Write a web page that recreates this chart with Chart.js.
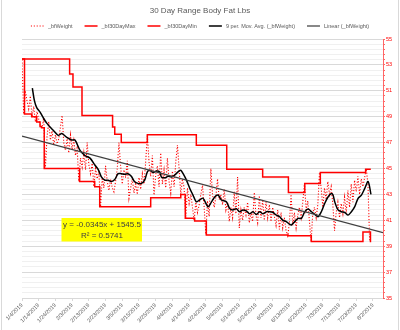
<!DOCTYPE html>
<html>
<head>
<meta charset="utf-8">
<title>30 Day Range Body Fat Lbs</title>
<script src="https://cdn.jsdelivr.net/npm/chart.js@4.4.1/dist/chart.umd.min.js"></script>
<style>
  html, body { margin: 0; padding: 0; background: #fff; }
  #wrap { width: 400px; height: 330px; position: relative; }
</style>
</head>
<body>
<div id="wrap"><canvas id="bfChart"></canvas></div>
<script>
// x values are days counted from 1/4/2019
const dateTicks = [
  '1/4/2019', '1/14/2019', '1/24/2019', '2/3/2019', '2/13/2019', '2/23/2019',
  '3/5/2019', '3/15/2019', '3/25/2019', '4/4/2019', '4/14/2019', '4/24/2019',
  '5/4/2019', '5/14/2019', '5/24/2019', '6/3/2019', '6/13/2019', '6/23/2019',
  '7/3/2019', '7/13/2019', '7/23/2019', '8/2/2019'
];

// daily body fat (lbs), one value per day
const bfWeight = [
  53.4, 49.2, 51.0, 50.2, 49.6, 50.6, 49.0, 49.8, 48.6, 49.4,
  48.8, 48.25, 48.15, 48.9, 45.0, 47.5, 48.6, 47.2, 47.9, 46.8,
  47.6, 46.9, 47.3, 48.2, 49.1, 47.0, 46.4, 47.3, 46.2, 47.6,
  46.5, 47.2, 46.0, 46.6, 44.0, 45.8, 45.1, 46.2, 44.9, 47.0,
  45.3, 44.6, 45.4, 43.6, 45.0, 44.2, 44.8, 42.05, 44.3, 43.5,
  45.2, 44.0, 43.3, 44.2, 43.5, 43.2, 44.0, 45.0, 47.0, 45.2,
  43.8, 44.9, 44.3, 45.6, 42.7, 43.5, 44.2, 43.1, 43.8, 43.0,
  44.3, 43.4, 44.6, 43.8, 45.5, 47.6, 45.5, 44.4, 46.0, 42.95,
  44.5, 45.2, 43.6, 46.2, 43.8, 44.9, 43.5, 45.8, 44.0, 43.1,
  44.8, 43.6, 45.5, 46.8, 45.0, 43.0, 44.2, 43.5, 41.16, 43.5,
  42.3, 43.0, 42.0, 41.0, 42.4, 41.6, 42.2, 43.0, 43.7, 42.0,
  39.9, 42.5, 41.3, 45.0, 43.0, 42.0, 42.8, 44.2, 42.6, 43.0,
  42.2, 43.4, 41.8, 42.4, 40.9, 42.0, 41.2, 43.2, 41.5, 44.35,
  40.4, 41.8, 41.0, 42.0, 41.4, 42.4, 40.8, 41.6, 40.9, 43.15,
  41.4, 40.8, 42.9, 41.2, 42.6, 41.0, 42.4, 41.2, 42.2, 40.9,
  42.0, 41.3, 40.6, 41.8, 40.3, 41.6, 40.4, 41.2, 40.2, 39.8,
  40.8, 43.0, 40.6, 41.6, 40.4, 41.4, 42.0, 41.2, 42.4, 43.85,
  41.8, 42.5, 40.9, 39.36, 41.6, 42.0, 41.2, 42.2, 44.7, 43.5,
  42.0, 43.5, 42.6, 44.0, 43.0, 43.6, 42.2, 40.2, 41.6, 42.4,
  41.2, 42.3, 41.5, 42.8, 41.6, 43.3, 42.0, 43.8, 42.4, 44.1,
  43.2, 44.4, 43.0, 44.2, 43.6, 44.3, 44.95, 43.8, 39.36
];

// 30 day max: each value holds from its day until the next change
const maxDays = [0, 28.5, 30.5, 35.9, 54.2, 55.5, 59.4, 75, 104.3, 122.5, 144, 159.4, 169.2, 178.5, 205.6, 208.7];
const maxValues = [53.45, 52.3, 51.3, 49.1, 48.2, 47.65, 47.0, 47.6, 46.8, 44.95, 44.35, 43.15, 43.85, 44.7, 44.95, 44.95];

// 30 day min, same layout
const minDays = [0, 1.5, 5.8, 8.8, 10.8, 11.7, 13.3, 34.5, 43.5, 46.5, 77, 95, 97.7, 103.3, 110.3, 159.2, 173.1, 204, 208.5];
const minValues = [53.45, 49.2, 49.0, 48.6, 48.25, 48.15, 45.0, 44.0, 43.6, 42.05, 42.75, 43.0, 41.16, 40.95, 39.87, 39.8, 39.36, 40.1, 39.3];

// 9 period moving average
const avgDays = [
  6.2, 7.5, 8.8, 10.8, 12.8, 14.8, 16.8, 18.7, 21.7, 23.8, 26.8, 29.7, 31.7, 34.7,
  37.7, 40.7, 43.7, 45.7, 47.5, 49.5, 51.5, 53.5, 55.5, 57.5, 59.4, 61.4, 63.4,
  65.4, 67.4, 69.4, 71.4, 73.4, 75, 76.4, 78.4, 80.4, 82.4, 83.4, 85.4, 87.4,
  89.4, 91.4, 93.4, 95, 96.4, 98.4, 100.4, 102.3, 104.3, 106.3, 108.3, 111.3,
  113.3, 115.3, 117.3, 119.3, 122.3, 124.3, 126.2, 128.2, 130.2, 132.2, 134.2,
  136.2, 138.2, 140.2, 142.2, 144.2, 146.2, 148.2, 150.2, 152.2, 154.1, 156.1,
  158.1, 160.1, 161.2, 163.2, 165.2, 167.2, 169.2, 171.2, 173.2, 175.2, 177.2,
  179.1, 181.1, 183.1, 185.1, 186.1, 187.1, 189.1, 191.1, 193.1, 195.1, 197.1,
  199.1, 201.1, 203.1, 205.1, 207.1, 208.8
];
const avgValues = [
  51.2, 50.2, 49.7, 49.35, 48.9, 48.5, 48.2, 47.95, 47.56, 47.7, 47.4, 47.2, 47.2, 46.4,
  46.0, 45.8, 45.25, 44.9, 44.35, 44.1, 44.1, 44.0, 44.15, 44.6, 44.6, 44.55, 44.6,
  44.4, 43.97, 43.85, 43.85, 44.1, 44.74, 44.87, 44.7, 44.8, 44.74, 44.35, 44.28, 44.4,
  44.35, 44.5, 44.74, 44.87, 44.6, 44.1, 43.46, 42.95, 42.43, 42.57, 42.7, 42.05,
  42.4, 42.8, 42.95, 42.57, 42.43, 41.9, 41.8, 41.9, 41.66, 41.8, 41.72,
  41.5, 41.66, 41.45, 41.66, 41.5, 41.66, 41.66, 41.6, 41.4, 41.28, 41.0,
  40.9, 40.7, 40.64, 40.9, 41.15, 41.15, 41.66, 41.87, 41.66, 41.46, 41.28,
  41.66, 42.3, 42.8, 43.07, 42.95, 42.43, 41.8, 41.66, 41.6, 41.4, 41.66,
  42.05, 42.7, 42.95, 43.46, 44.0, 43.0
];

// linear trend across the whole axis
const trendDays = [0, 216];
const trendValues = [47.5, 40.05];

const FONT = '"Liberation Sans", Arial, sans-serif';
const TEXT_GRAY = '#595959';

function xy(days, values) {
  return days.map((d, i) => ({ x: d, y: values[i] }));
}

// odd whole numbers get a label and a darker grid line
function isMajor(v) {
  const r = Math.round(v);
  return Math.abs(v - r) < 1e-6 && Math.abs(r % 2) === 1;
}

// legend row under the title, plus the trend equation box and side frame
const chartExtras = {
  id: 'chartExtras',
  afterDraw(chart) {
    const { ctx, chartArea } = chart;
    ctx.save();

    // legend
    ctx.font = '5.5px ' + FONT;
    ctx.textBaseline = 'middle';
    const sample = 13;
    const items = chart.data.datasets.map(ds => ({
      ds,
      w: sample + 4 + ctx.measureText(ds.label).width
    }));
    const gap = 12;
    const total = items.reduce((s, it) => s + it.w, 0) + gap * (items.length - 1);
    let x = (chart.width - total) / 2;
    const y = 26;
    items.forEach(({ ds, w }) => {
      ctx.strokeStyle = ds.borderColor;
      ctx.lineWidth = ds.borderWidth;
      ctx.setLineDash(ds.borderDash || []);
      ctx.beginPath();
      ctx.moveTo(x, y);
      ctx.lineTo(x + sample, y);
      ctx.stroke();
      ctx.setLineDash([]);
      ctx.fillStyle = TEXT_GRAY;
      ctx.textAlign = 'left';
      ctx.fillText(ds.label, x + sample + 4, y);
      x += w + gap;
    });

    // trend equation label
    const bx = chartArea.left + 39.5;
    const by = chartArea.top + 179;
    ctx.fillStyle = '#ffff00';
    ctx.fillRect(bx, by, 80.5, 23.5);
    ctx.fillStyle = '#404040';
    ctx.font = '8px ' + FONT;
    ctx.textAlign = 'center';
    ctx.fillText('y = -0.0345x + 1545.5', bx + 40.5, by + 7);
    ctx.fillText('R\u00B2 = 0.5741', bx + 40.5, by + 18);

    // chart frame edges
    ctx.strokeStyle = '#d9d9d9';
    ctx.lineWidth = 1;
    ctx.beginPath();
    ctx.moveTo(1.5, 0);
    ctx.lineTo(1.5, chart.height);
    ctx.moveTo(chart.width - 1.5, 0);
    ctx.lineTo(chart.width - 1.5, chart.height);
    ctx.stroke();

    ctx.restore();
  }
};

const ctx = document.getElementById('bfChart').getContext('2d');
new Chart(ctx, {
  type: 'line',
  data: {
    datasets: [
      {
        label: '_bfWeight',
        data: bfWeight.map((v, i) => ({ x: i, y: v })),
        borderColor: '#ff0000',
        borderWidth: 1.1,
        borderDash: [1.1, 1.8],
        pointRadius: 0,
        tension: 0,
        yAxisID: 'y',
        order: 5
      },
      {
        label: '_bf30DayMax',
        data: xy(maxDays, maxValues),
        borderColor: '#ff0000',
        borderWidth: 1.5,
        stepped: true,
        pointRadius: 0,
        yAxisID: 'y',
        order: 4
      },
      {
        label: '_bf30DayMin',
        data: xy(minDays, minValues),
        borderColor: '#ff0000',
        borderWidth: 1.5,
        stepped: true,
        pointRadius: 0,
        yAxisID: 'y',
        order: 3
      },
      {
        label: '9 per. Mov. Avg. (_bfWeight)',
        data: xy(avgDays, avgValues),
        borderColor: '#000000',
        borderWidth: 1.5,
        tension: 0.3,
        pointRadius: 0,
        yAxisID: 'y',
        order: 2
      },
      {
        label: 'Linear (_bfWeight)',
        data: xy(trendDays, trendValues),
        borderColor: '#404040',
        borderWidth: 1.25,
        pointRadius: 0,
        yAxisID: 'y',
        order: 1
      }
    ]
  },
  options: {
    responsive: true,
    maintainAspectRatio: false,
    animation: false,
    layout: { padding: 0 },
    plugins: {
      legend: { display: false },
      tooltip: { enabled: false },
      title: {
        display: true,
        text: '30 Day Range Body Fat Lbs',
        color: TEXT_GRAY,
        font: { family: FONT, size: 8, weight: 'normal' },
        padding: { top: 6, bottom: 23.4 }
      }
    },
    scales: {
      x: {
        type: 'linear',
        min: 0,
        max: 216,
        afterBuildTicks: s => { s.ticks = dateTicks.map((_, i) => ({ value: i * 10 })); },
        afterFit: s => { s.height = 32; },
        ticks: {
          autoSkip: false,
          minRotation: 45,
          maxRotation: 45,
          padding: 1,
          color: TEXT_GRAY,
          font: { family: FONT, size: 5.5 },
          callback: (v, i) => dateTicks[i]
        },
        grid: { drawOnChartArea: false, color: '#d9d9d9', tickLength: 3 },
        border: { color: '#d9d9d9' }
      },
      y: {
        type: 'linear',
        position: 'right',
        min: 35,
        max: 55,
        afterFit: s => { s.width = 17; },
        ticks: {
          stepSize: 0.4,
          autoSkip: false,
          padding: 1,
          color: '#ff0000',
          font: { family: FONT, size: 5.5 },
          callback: v => (isMajor(v) ? String(Math.round(v)) : '')
        },
        grid: {
          color: c => (c.tick && isMajor(c.tick.value) ? '#d9d9d9' : '#f0f0f0'),
          tickColor: 'rgba(255, 0, 0, 0.6)',
          tickLength: 2
        },
        border: { color: 'rgba(255, 0, 0, 0.6)' }
      },
      // empty left margin so the plot starts where the first date tick is
      pad: {
        type: 'linear',
        position: 'left',
        afterFit: s => { s.width = 22; },
        ticks: { display: false },
        grid: { display: false },
        border: { display: false }
      }
    }
  },
  plugins: [chartExtras]
});
</script>
</body>
</html>
